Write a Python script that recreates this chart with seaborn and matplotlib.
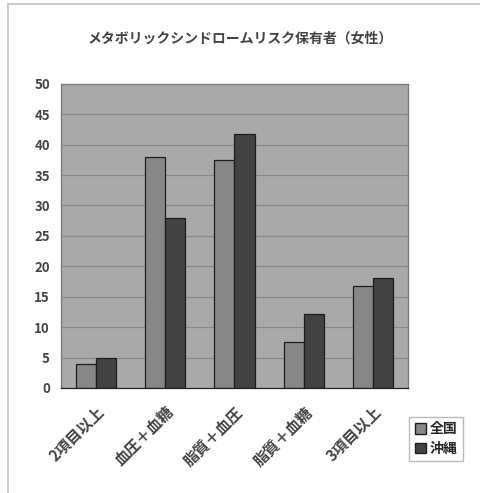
import pandas as pd
import seaborn as sns
import matplotlib.pyplot as plt
from matplotlib.patches import Rectangle

# Data
categories = ['2項目以上', '血圧＋血糖', '脂質＋血圧', '脂質＋血糖', '3項目以上']
zenkoku = [4.0, 38.0, 37.5, 7.5, 16.7]
okinawa = [5.0, 28.0, 41.7, 12.2, 18.0]
series_names = ['全国', '沖縄']
yticks = list(range(0, 55, 5))

df = pd.DataFrame({
    'category': categories * 2,
    'value': zenkoku + okinawa,
    'series': [series_names[0]] * len(categories) + [series_names[1]] * len(categories),
})

sns.set_style('white')
plt.rcParams['font.family'] = ['Noto Sans CJK JP', 'DejaVu Sans']

fig = plt.figure(figsize=(4.81, 4.93), dpi=100)
ax = fig.add_axes([0.127, 0.213, 0.721, 0.617])
ax.set_facecolor('#a9a9a9')

sns.barplot(data=df, x='category', y='value', hue='series',
            palette=['#878787', '#424242'], width=0.58,
            edgecolor='#1e1e1e', linewidth=0.9, ax=ax, legend=False,
            saturation=1)

ax.set_ylim(0, 50)
ax.set_yticks(yticks)
ax.set_yticklabels([str(t) for t in yticks], fontsize=9.5, color='#444444',
                   fontweight='bold')
ax.yaxis.grid(True, color='#8a8a8a', linewidth=0.9)
ax.set_axisbelow(True)
ax.tick_params(axis='y', length=0, pad=8)
ax.tick_params(axis='x', length=0, pad=11)
ax.set_xticks(range(len(categories)))
ax.set_xticklabels(categories, rotation=45, ha='right', rotation_mode='anchor',
                   fontsize=11, color='#444444', fontweight='bold')
ax.set_xlabel('')
ax.set_ylabel('')
for s in ax.spines.values():
    s.set_color('#777777')
    s.set_linewidth(0.9)
ax.spines['bottom'].set_color('#222222')

fig.suptitle('メタボリックシンドロームリスク保有者（女性）', y=0.935, fontsize=10,
             color='#444444', fontweight='bold')

# legend box in the lower right
handles = [Rectangle((0, 0), 1, 1, facecolor=c, edgecolor='#1e1e1e')
           for c in ['#878787', '#424242']]
fig.legend(handles, series_names, loc='lower left', bbox_to_anchor=(0.836, 0.05),
           frameon=True, fancybox=False, edgecolor='#aaaaaa',
           prop={'size': 10, 'weight': 'bold'},
           handlelength=0.8, handleheight=0.8, handletextpad=0.3,
           borderpad=0.4, labelspacing=0.4)

# outer chart frame
fig.patches.append(Rectangle((0.017, -0.02), 1.2, 1.012, transform=fig.transFigure,
                             fill=False, edgecolor='#cccccc', linewidth=1.5))

fig.savefig('out.png', dpi=100)
